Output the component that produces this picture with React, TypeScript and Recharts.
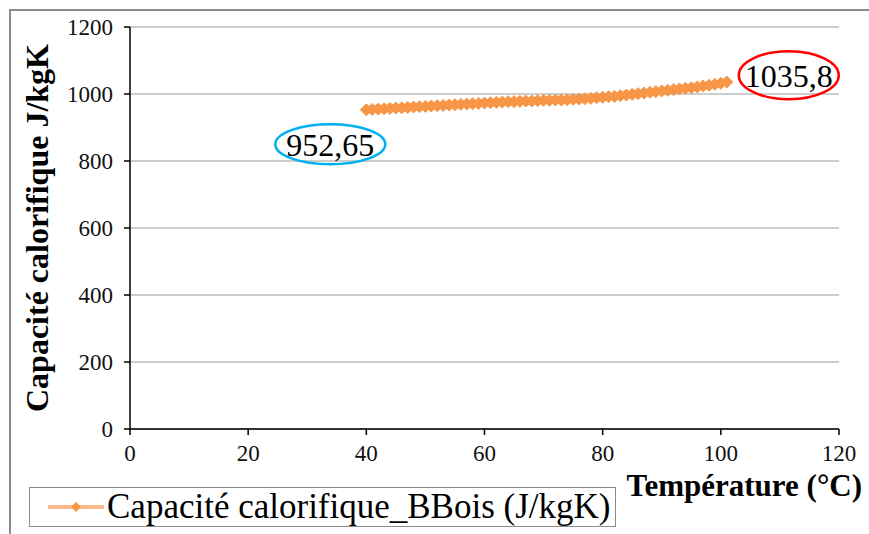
import { LineChart, Line, XAxis, YAxis, CartesianGrid, Legend, ReferenceDot, Label } from "recharts";

const temperatures = [
  40, 41, 42, 43, 44, 45, 46, 47, 48, 49, 50, 51, 52, 53, 54, 55, 56, 57, 58, 59, 60,
  61, 62, 63, 64, 65, 66, 67, 68, 69, 70, 71, 72, 73, 74, 75, 76, 77, 78, 79, 80,
  81, 82, 83, 84, 85, 86, 87, 88, 89, 90, 91, 92, 93, 94, 95, 96, 97, 98, 99, 100, 101,
];
const capacities = [
  952.65, 954, 955, 956, 957, 958, 959, 960, 961, 962, 963, 964, 965, 966, 967, 968, 969, 970, 971, 972, 973,
  974, 975, 976, 977, 977, 978, 979, 979, 980, 981, 981, 982, 982, 983, 984, 985, 986, 987, 989, 990,
  992, 993, 995, 997, 999, 1001, 1003, 1005, 1007, 1009, 1011, 1013, 1015, 1017, 1019, 1021, 1024, 1026, 1029, 1032, 1035.8,
];
const xTicks = [0, 20, 40, 60, 80, 100, 120];
const yTicks = [0, 200, 400, 600, 800, 1000, 1200];

const seriesName = "Capacité calorifique_BBois (J/kgK)";
const xTitle = "Température (°C)";
const yTitle = "Capacité calorifique J/kgK";

// callouts drawn around the first and last values
const callouts = [
  { x: 33.9, y: 850, text: "952,65", color: "#00B0F0", rx: 55, ry: 20 },
  { x: 111.5, y: 1056, text: "1035,8", color: "#FF0000", rx: 50, ry: 24 },
];

const data = temperatures.map((t, i) => ({ t, cp: capacities[i] }));

const FONT = "Liberation Serif";
const ORANGE = "#F79646";

function Diamond(props: any) {
  const { cx, cy } = props;
  if (cx == null || cy == null) return null;
  const s = 6;
  return (
    <polygon
      points={`${cx},${cy - s} ${cx + s},${cy} ${cx},${cy + s} ${cx - s},${cy}`}
      fill={ORANGE}
      stroke={ORANGE}
    />
  );
}

function LegendBox() {
  return (
    <svg width={587} height={40} style={{ display: "block" }}>
      <rect x={0.5} y={0.5} width={586} height={39} fill="#fff" stroke="#8a8a8a" />
      <line x1={19} y1={20} x2={75} y2={20} stroke="#FAB98A" strokeWidth={4} />
      <polygon points="47,15 52,20 47,25 42,20" fill={ORANGE} />
      <text x={78} y={31} fontFamily={FONT} fontSize={35} fill="#000">
        {seriesName}
      </text>
    </svg>
  );
}

export default function App() {
  return (
    <div style={{ position: "absolute", left: 0, top: 0, width: 869, height: 534, overflow: "hidden", background: "#fff" }}>
      <div
        style={{
          position: "absolute",
          left: 9,
          top: 9,
          width: 900,
          height: 600,
          borderLeft: "2px solid #8c8c8c",
          borderTop: "2px solid #8c8c8c",
        }}
      />
      <div style={{ position: "absolute", left: 0, top: 0 }}>
        <LineChart width={869} height={534} data={data} margin={{ top: 27, right: 30, left: 70, bottom: 75 }}>
          <CartesianGrid vertical={false} stroke="#BDBDBD" strokeWidth={1.5} />
          <XAxis
            dataKey="t"
            type="number"
            domain={[0, 120]}
            ticks={xTicks}
            height={30}
            axisLine={{ stroke: "#000", strokeWidth: 1.5 }}
            tickLine={{ stroke: "#000", strokeWidth: 1.5 }}
            tickSize={6}
            tickMargin={10}
            tick={{ fontSize: 23, fill: "#111", fontFamily: FONT }}
          >
            <Label
              content={({ viewBox }: any) => (
                <text
                  x={viewBox.x + viewBox.width + 23}
                  y={viewBox.y + 67}
                  textAnchor="end"
                  fontFamily={FONT}
                  fontWeight="bold"
                  fontSize={31}
                  fill="#000"
                >
                  {xTitle}
                </text>
              )}
            />
          </XAxis>
          <YAxis
            type="number"
            domain={[0, 1200]}
            ticks={yTicks}
            width={60}
            axisLine={{ stroke: "#000", strokeWidth: 1.5 }}
            tickLine={{ stroke: "#000", strokeWidth: 1.5 }}
            tickSize={6}
            tickMargin={11}
            tick={{ fontSize: 23, fill: "#111", fontFamily: FONT }}
          >
            <Label
              content={({ viewBox }: any) => {
                const cx = viewBox.x - 33;
                const cy = viewBox.y + viewBox.height / 2;
                return (
                  <text
                    x={cx}
                    y={cy}
                    transform={`rotate(-90 ${cx} ${cy})`}
                    textAnchor="middle"
                    dominantBaseline="central"
                    fontFamily={FONT}
                    fontWeight="bold"
                    fontSize={32}
                    fill="#000"
                  >
                    {yTitle}
                  </text>
                );
              }}
            />
          </YAxis>
          <Legend
            layout="horizontal"
            verticalAlign="middle"
            content={() => <LegendBox />}
            wrapperStyle={{ position: "absolute", left: 29, top: 487, width: 587, height: 40 }}
          />
          <Line
            type="linear"
            dataKey="cp"
            name={seriesName}
            stroke={ORANGE}
            strokeWidth={7}
            dot={<Diamond />}
            activeDot={false}
            isAnimationActive={false}
          />
          {callouts.map((c) => (
            <ReferenceDot
              key={c.text}
              x={c.x}
              y={c.y}
              ifOverflow="visible"
              shape={(p: any) => (
                <g>
                  <ellipse cx={p.cx} cy={p.cy} rx={c.rx} ry={c.ry} fill="none" stroke={c.color} strokeWidth={2.5} />
                  <text
                    x={p.cx}
                    y={p.cy + 1}
                    textAnchor="middle"
                    dominantBaseline="central"
                    fontFamily={FONT}
                    fontSize={32}
                    fill="#000"
                  >
                    {c.text}
                  </text>
                </g>
              )}
            />
          ))}
        </LineChart>
      </div>
    </div>
  );
}
